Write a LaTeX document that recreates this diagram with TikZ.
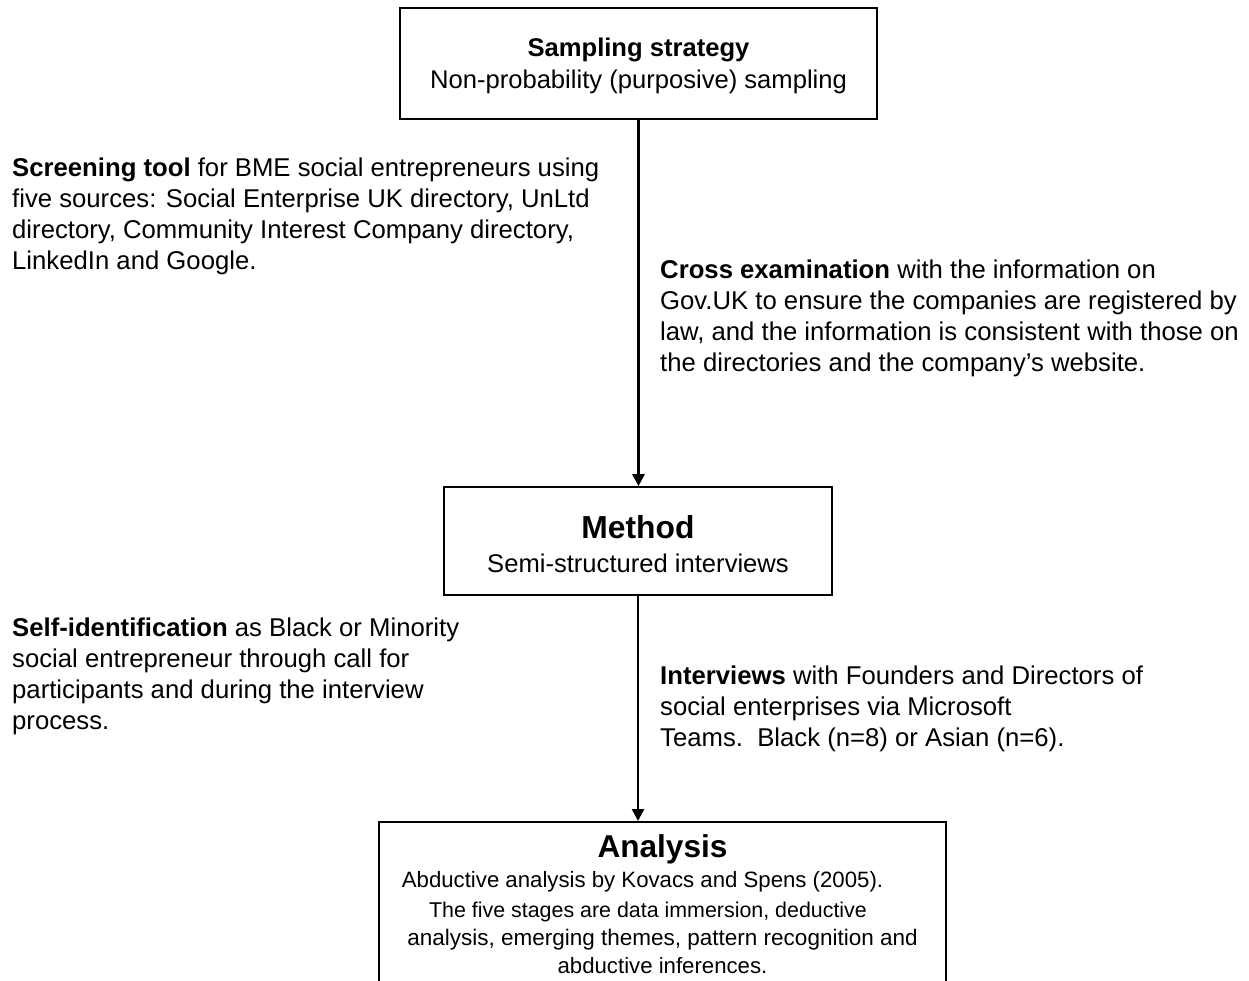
\documentclass[tikz,border=0pt]{standalone}
\usepackage{fontspec}
\setmainfont{Liberation Sans}
\usetikzlibrary{arrows.meta}
\begin{document}
\begin{tikzpicture}[x=1pt,y=1pt,
  body/.style={font=\fontsize{25.7}{31}\selectfont, align=left, inner sep=0pt, anchor=base west},
  boxtxt/.style={draw=black, line width=1.6pt, align=center, inner sep=0pt},
  conn/.style={line width=2.6pt, -{Triangle[length=12pt,width=12pt]}}]
\clip (0,0) rectangle (1249,-981);
\fill[white] (0,0) rectangle (1249,-981);
% boxes
\node[boxtxt, minimum width=477pt, minimum height=111pt] (samp) at (638.5,-63.5) {};
\node[align=center, inner sep=0pt, font=\fontsize{25.6}{32}\selectfont] (samptxt) at (638.5,-65.5)
  {\textbf{Sampling strategy}\\ Non-probability (purposive) sampling};
\node[boxtxt, minimum width=388pt, minimum height=108pt] (meth) at (638,-541) {};
\node[align=center, inner sep=0pt, font=\fontsize{25.6}{34}\selectfont] (methtxt) at (638,-544)
  {\fontsize{31.8}{34}\selectfont\textbf{Method}\\ Semi-structured interviews};
\node[draw=black, line width=1.6pt, minimum width=567pt, minimum height=200pt, anchor=north] (anal) at (662.5,-821) {};
\node[align=center, inner sep=0pt, anchor=base, font=\fontsize{21.4}{28}\selectfont] (analtxt) at (662.5,-973)
  {\fontsize{31.6}{33}\selectfont\textbf{Analysis}\\[2pt]
   \fontsize{22.2}{30}\selectfont Abductive analysis by Kovacs and Spens (2005).\makebox[40pt]{}\\[2pt]
   The five stages are data immersion, deductive\makebox[29pt]{}\\
   \fontsize{22.5}{28}\selectfont analysis, emerging themes, pattern recognition and\\
   \fontsize{22.2}{28}\selectfont abductive inferences.};
% arrows
\draw[conn] (samp.south) -- (samp.south |- meth.north);
\draw[conn] (meth.south) -- (meth.south |- anal.north);
% side texts
\node[body] (screen) at (12,-269.5) {\textbf{Screening tool} for BME social entrepreneurs using\\
five sources: Social Enterprise UK directory, UnLtd\\
directory, Community Interest Company directory,\\
LinkedIn and Google.};
\node[body] (cross) at (660,-371.5) {\textbf{Cross examination} with the information on\\
Gov.UK to ensure the companies are registered by\\
law, and the information is consistent with those on\\
the directories and the company’s website.};
\node[body] (self) at (12,-729.5) {\textbf{Self-identification} as Black or Minority\\
social entrepreneur through call for\\
participants and during the interview\\
process.};
\node[body] (inter) at (660,-746.5) {\textbf{Interviews} with Founders and Directors of\\
social enterprises via Microsoft\\
Teams.\ \ Black (n=8) or Asian (n=6).};
\end{tikzpicture}
\end{document}
